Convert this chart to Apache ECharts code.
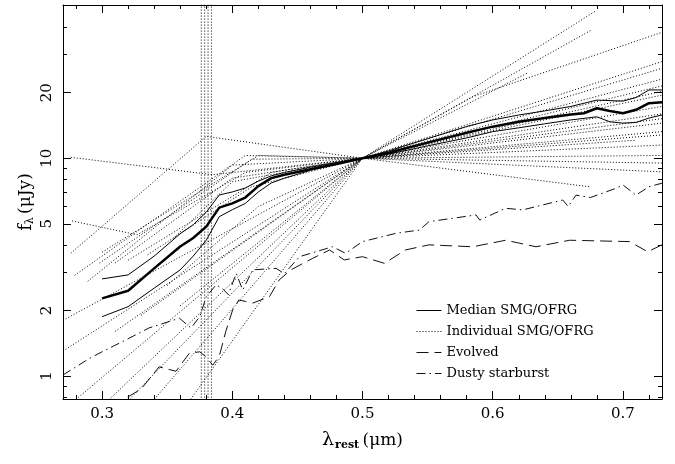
<!DOCTYPE html>
<html><head><meta charset="utf-8">
<script src="https://cdn.jsdelivr.net/npm/echarts@6/dist/echarts.min.js"></script>
<style>html,body{margin:0;padding:0;background:#fff}#c{width:675px;height:464px}</style>
</head><body><div id="c"></div>
<script>
// ---- tick values ----
const xMajorTicks = [0.3, 0.4, 0.5, 0.6, 0.7];
const xMinorTicks = [0.28, 0.32, 0.34, 0.36, 0.38, 0.42, 0.44, 0.46, 0.48, 0.52, 0.54, 0.56, 0.58, 0.62, 0.64, 0.66, 0.68, 0.72];
const yMajorTicks = [1, 2, 5, 10, 20];
const yMinorTicks = [0.8, 0.9, 3, 4, 6, 7, 8, 9, 30, 40];

// ---- hatched band (wavelengths of vertical dotted lines) ----
const bandLines = [0.3762, 0.3788, 0.3814, 0.3840];
const bandRange = [0.7, 60];

// ---- median SMG/OFRG and its bounds: [lambda (um), f (uJy)] ----
const medianSed = [[0.30,2.27],[0.32,2.46],[0.34,3.12],[0.36,3.93],[0.37,4.3],[0.38,4.85],[0.39,5.93],[0.40,6.2],[0.41,6.6],[0.42,7.45],[0.43,8.1],[0.44,8.4],[0.46,8.9],[0.48,9.4],[0.50,10],[0.52,10.6],[0.55,11.8],[0.58,13.1],[0.60,13.97],[0.62,14.7],[0.64,15.3],[0.66,15.9],[0.67,16.1],[0.68,16.97],[0.69,16.5],[0.70,16.1],[0.71,16.7],[0.72,17.9],[0.73,18.1]];
const upperSed = [[0.30,2.79],[0.32,2.91],[0.34,3.55],[0.36,4.5],[0.37,4.95],[0.38,5.65],[0.39,6.78],[0.40,7.0],[0.41,7.3],[0.42,7.85],[0.43,8.3],[0.44,8.6],[0.46,9.1],[0.48,9.55],[0.50,10],[0.52,10.8],[0.55,12.3],[0.58,14.0],[0.60,15.0],[0.62,15.8],[0.64,16.5],[0.66,17.3],[0.68,18.5],[0.70,18.3],[0.71,19.0],[0.72,20.6],[0.73,20.6]];
const lowerSed = [[0.30,1.87],[0.32,2.08],[0.34,2.53],[0.36,3.07],[0.37,3.55],[0.38,4.2],[0.39,5.39],[0.40,5.8],[0.41,6.2],[0.42,7.0],[0.43,7.7],[0.44,8.1],[0.46,8.8],[0.48,9.4],[0.50,10],[0.52,10.45],[0.55,11.4],[0.58,12.4],[0.60,13.25],[0.62,13.8],[0.64,14.4],[0.66,15.0],[0.68,15.5],[0.69,14.7],[0.70,14.5],[0.71,14.6],[0.72,15.3],[0.73,15.8]];

// ---- templates ----
const evolvedSed = [[0.3197,0.80],[0.33,0.87],[0.3438,1.10],[0.3568,1.05],[0.367,1.27],[0.375,1.29],[0.38,1.22],[0.385,1.12],[0.39,1.23],[0.395,1.6],[0.4003,2.01],[0.405,2.23],[0.41,2.2],[0.4157,2.16],[0.4285,2.31],[0.436,2.76],[0.445,3.07],[0.4618,3.47],[0.4747,3.79],[0.486,3.41],[0.5,3.53],[0.5168,3.29],[0.533,3.79],[0.551,4.0],[0.5846,3.92],[0.61,4.2],[0.6333,3.92],[0.659,4.2],[0.705,4.14],[0.719,3.72],[0.73,4.0]];
const dustySed = [[0.27,1.01],[0.28,1.10],[0.29,1.2],[0.30,1.29],[0.318,1.46],[0.336,1.66],[0.3594,1.84],[0.3683,1.66],[0.375,1.87],[0.38,2.31],[0.3876,2.62],[0.393,2.5],[0.397,2.36],[0.403,2.96],[0.408,2.48],[0.4157,3.07],[0.4336,3.12],[0.44,2.95],[0.4516,3.53],[0.477,3.92],[0.487,3.66],[0.5,4.14],[0.5258,4.52],[0.5437,4.68],[0.551,5.11],[0.5872,5.49],[0.59,5.2],[0.61,5.89],[0.623,5.79],[0.6538,6.43],[0.658,6.0],[0.664,6.77],[0.675,6.6],[0.6948,7.28],[0.70,7.54],[0.71,6.77],[0.72,7.4],[0.73,7.68]];

// ---- individual SMG/OFRG SEDs ----
const individualSeds = [
  [[0.276,10.1],[0.385,8.4],[0.5,10],[0.73,12.8]],
  [[0.277,5.15],[0.327,4.45],[0.41,8.6],[0.5,10],[0.73,13.25]],
  [[0.276,3.66],[0.38,12.6],[0.5,10],[0.674,7.4]],
  [[0.279,2.9],[0.41,10.3],[0.5,10],[0.73,9.5]],
  [[0.289,2.72],[0.40,9.3],[0.5,10],[0.73,17.3]],
  [[0.27,1.8],[0.5,10],[0.73,19.5]],
  [[0.27,1.3],[0.5,10],[0.73,23.1]],
  [[0.28,0.78],[0.5,10],[0.73,25.9]],
  [[0.3056,0.78],[0.5,10],[0.73,27.8]],
  [[0.321,0.78],[0.5,10],[0.679,47.5]],
  [[0.34,0.78],[0.5,10],[0.676,38.9]],
  [[0.298,3.3],[0.415,9.9],[0.5,10],[0.73,10.3]],
  [[0.30,3.7],[0.42,10.3],[0.5,10],[0.73,8.66]],
  [[0.31,3.3],[0.40,8.1],[0.5,10],[0.73,14.5]],
  [[0.32,3.4],[0.43,8.6],[0.5,10],[0.73,16.0]],
  [[0.335,3.6],[0.415,7.4],[0.5,10],[0.73,21.5]],
  [[0.36,2.1],[0.5,10],[0.585,19.2],[0.73,37.9]],
  [[0.368,0.78],[0.5,10],[0.627,24.7]],
  [[0.35,2.6],[0.42,6.0],[0.5,10],[0.73,20.3]],
  [[0.33,1.9],[0.5,10],[0.71,12.1]],
  [[0.31,1.6],[0.5,10],[0.73,15.2]],
  [[0.355,4.3],[0.40,7.8],[0.5,10],[0.73,11.5]]
];

const legendNames = ['Median SMG/OFRG', 'Individual SMG/OFRG', 'Evolved', 'Dusty starburst'];

const FONT = 'DejaVu Serif';
const INK = '#000';
const DOT = [1, 2];

function xAx(pos, major, showLine, showLabel, withName) {
  const ax = {
    type: 'value', min: 0.27, max: 0.73, position: pos,
    splitLine: { show: false },
    axisLine: { show: showLine, lineStyle: { color: INK, width: 1 } },
    axisTick: { show: true, inside: true, length: major ? 8 : 4, customValues: major ? xMajorTicks : xMinorTicks, lineStyle: { color: INK, width: 1 } },
    axisLabel: showLabel ? { show: true, customValues: xMajorTicks, formatter: v => (+v).toFixed(1), fontFamily: FONT, fontSize: 15, color: INK, margin: 8 } : { show: false }
  };
  if (withName) {
    ax.name = '{l|λ}{s|rest} {p|(μm)}';
    ax.nameLocation = 'middle';
    ax.nameGap = 31;
    ax.nameMoveOverlap = false;
    ax.nameTextStyle = {
      color: INK,
      rich: {
        l: { fontFamily: FONT, fontSize: 19, color: INK },
        s: { fontFamily: FONT, fontSize: 11, fontWeight: 'bold', color: INK, verticalAlign: 'bottom', padding: [10, 0, 0, 1] },
        p: { fontFamily: FONT, fontSize: 17, color: INK }
      }
    };
  }
  return ax;
}
function yAx(pos, major, showLine, showLabel, withName) {
  const ax = {
    type: 'log', logBase: 10, min: 0.783, max: 50.6, position: pos,
    splitLine: { show: false }, minorTick: { show: false },
    axisLine: { show: showLine, lineStyle: { color: INK, width: 1 } },
    axisTick: { show: true, inside: true, length: major ? 8 : 4, customValues: major ? yMajorTicks : yMinorTicks, lineStyle: { color: INK, width: 1 } },
    axisLabel: showLabel ? { show: true, customValues: yMajorTicks, rotate: 90, formatter: v => String(+(+v).toPrecision(3)), fontFamily: FONT, fontSize: 15, color: INK, margin: 8 } : { show: false }
  };
  if (withName) {
    ax.name = '{f|f}{s|λ} {p|(μJy)}';
    ax.nameLocation = 'middle';
    ax.nameGap = 27;
    ax.nameMoveOverlap = false;
    ax.nameTextStyle = {
      color: INK,
      rich: {
        f: { fontFamily: FONT, fontSize: 18, color: INK },
        s: { fontFamily: FONT, fontSize: 11, color: INK, verticalAlign: 'bottom', padding: [9, 0, 0, 0] },
        p: { fontFamily: FONT, fontSize: 17, color: INK }
      }
    };
  }
  return ax;
}

const series = [];
bandLines.forEach(v => {
  series.push({
    name: 'band', type: 'line', data: [[v, bandRange[0]], [v, bandRange[1]]], symbol: 'none', silent: true, z: 2,
    lineStyle: { color: INK, width: 1, type: DOT }
  });
});
individualSeds.forEach(d => {
  series.push({
    name: legendNames[1], type: 'line', data: d, symbol: 'none', silent: true, z: 2,
    lineStyle: { color: INK, width: 1, type: DOT }
  });
});
series.push({ name: legendNames[2], type: 'line', data: evolvedSed, symbol: 'none', silent: true, z: 3, lineStyle: { color: '#111', width: 1, type: [12, 6] } });
series.push({ name: legendNames[3], type: 'line', data: dustySed, symbol: 'none', silent: true, z: 3, lineStyle: { color: '#111', width: 1, type: [9, 4, 1.5, 4] } });
series.push({ name: legendNames[0], type: 'line', data: upperSed, symbol: 'none', silent: true, z: 4, lineStyle: { color: INK, width: 1 } });
series.push({ name: legendNames[0], type: 'line', data: lowerSed, symbol: 'none', silent: true, z: 4, lineStyle: { color: INK, width: 1 } });
series.push({ name: legendNames[0], type: 'line', data: medianSed, symbol: 'none', silent: true, z: 5, lineStyle: { color: INK, width: 2.5 } });

const chart = echarts.init(document.getElementById('c'), null, { renderer: 'canvas' });
chart.setOption({
  animation: false,
  backgroundColor: '#fff',
  grid: { left: 63, right: 13, top: 5, bottom: 65, containLabel: false },
  legend: {
    data: legendNames, orient: 'vertical', left: 416, top: 304, padding: 0,
    itemWidth: 25, itemHeight: 14, itemGap: 8, selectedMode: false,
    itemStyle: { opacity: 0 },
    lineStyle: { width: 1 },
    textStyle: { fontFamily: FONT, fontSize: 13, color: INK }
  },
  xAxis: [xAx('bottom', true, true, true, true), xAx('bottom', false, false, false, false), xAx('top', true, true, false, false), xAx('top', false, false, false, false)],
  yAxis: [yAx('left', true, true, true, true), yAx('left', false, false, false, false), yAx('right', true, true, false, false), yAx('right', false, false, false, false)],
  series: series
});
</script>
</body></html>
